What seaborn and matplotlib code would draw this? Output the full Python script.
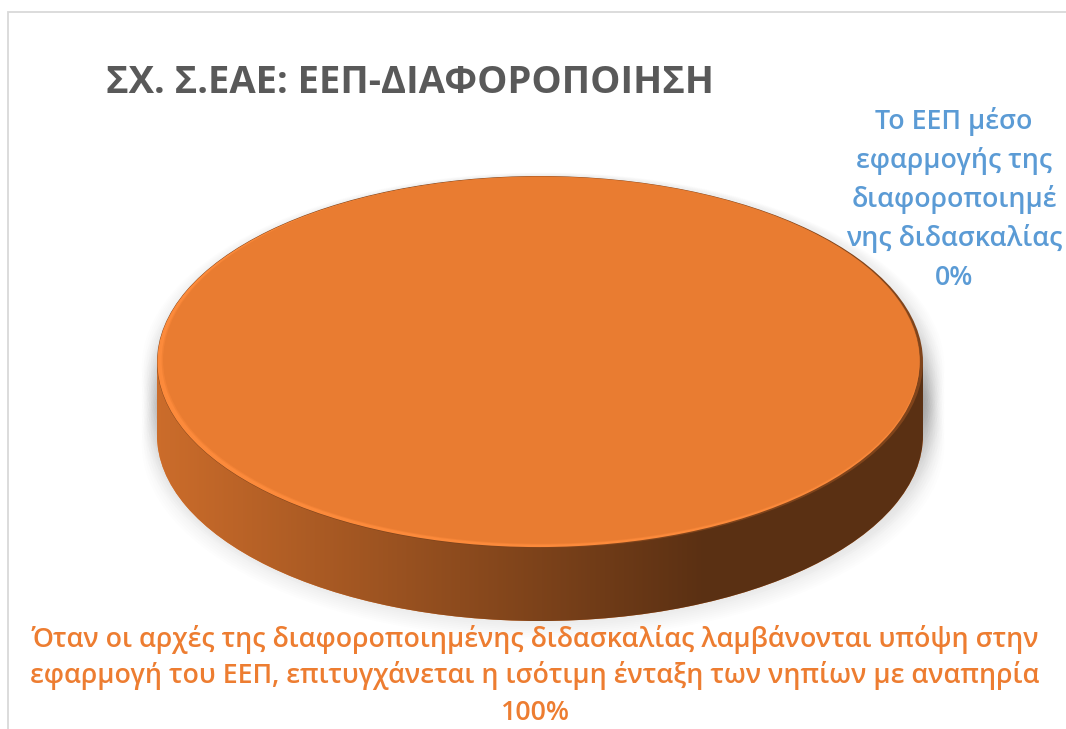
import numpy as np
import matplotlib
matplotlib.use("Agg")
import matplotlib.pyplot as plt
import seaborn as sns
from matplotlib.patches import Rectangle
from matplotlib.colors import to_rgb

# ---------------- data ----------------
title = "ΣΧ. Σ.ΕΑΕ: ΕΕΠ-ΔΙΑΦΟΡΟΠΟΙΗΣΗ"
categories = [
    "Το ΕΕΠ μέσο εφαρμογής της διαφοροποιημένης διδασκαλίας",
    "Όταν οι αρχές της διαφοροποιημένης διδασκαλίας λαμβάνονται υπόψη στην "
    "εφαρμογή του ΕΕΠ, επιτυγχάνεται η ισότιμη ένταξη των νηπίων με αναπηρία",
]
label_lines = [
    ["Το ΕΕΠ μέσο", "εφαρμογής της", "διαφοροποιημέ", "νης διδασκαλίας"],
    ["Όταν οι αρχές της διαφοροποιημένης διδασκαλίας λαμβάνονται υπόψη στην",
     "εφαρμογή του ΕΕΠ, επιτυγχάνεται η ισότιμη ένταξη των νηπίων με αναπηρία"],
]
values = [0, 100]
slice_colors = ["#5B9BD5", "#E97C31"]
label_colors = ["#5B9BD5", "#ED7D31"]

# ---------------- style ----------------
W, H = 1066, 729
sns.set_theme(style="white")
plt.rcParams["font.family"] = ["Open Sans", "DejaVu Sans"]

fig = plt.figure(figsize=(W / 100, H / 100), dpi=100)
fig.patch.set_facecolor("white")


def fx(px):
    return px / W


def fy(py):
    return 1 - py / H


# chart frame (light grey border, right/bottom run off the image)
fig.patches.append(Rectangle((fx(8), fy(H + 20)), 2, fy(12) - fy(H + 20),
                             transform=fig.transFigure, fill=False,
                             edgecolor="#D9D9D9", lw=1.3, zorder=0))

# pie geometry in pixels: centre, radii, thickness
cx, cy, rx, ry, thick = 540, 362, 383, 186, 73
T = thick / ry

ax = fig.add_axes([0, 0, 1, 1])
ax.set_facecolor("none")

# soft shadow
for yc in np.linspace(0, -T - 0.02, 6):
    for k in range(8):
        ax.pie(values, colors=["black"] * len(values), radius=1 + 0.006 * (k + 1),
               center=(0.008, yc - 0.004 * k), startangle=90, counterclock=False,
               wedgeprops=dict(linewidth=0, alpha=0.007, zorder=1))

# side of the disc (bottom face + body) with horizontal shading
bottom_wedges, _ = ax.pie(values, colors=slice_colors, radius=1, center=(0, -T),
                          startangle=90, counterclock=False,
                          wedgeprops=dict(linewidth=0, zorder=2))
x0, x1 = -cx / rx, (W - cx) / rx
xs = np.linspace(x0, x1, 800)
shade = np.clip(0.84 - 0.34 * (xs + 0.9), 0.39, 0.88)
for w, v, col in zip(bottom_wedges, values, slice_colors):
    if v <= 0:
        continue
    base = np.array(to_rgb(col))
    img = (shade[:, None] * base[None, :])[None, :, :]
    im1 = ax.imshow(img, extent=[x0, x1, -T - 1.05, 0.05], aspect="auto",
                    origin="lower", interpolation="bilinear", zorder=3)
    im1.set_clip_path(w)
    body = Rectangle((-1, -T), 2, T, transform=ax.transData)
    im2 = ax.imshow(img, extent=[x0, x1, -T - 1.05, 0.05], aspect="auto",
                    origin="lower", interpolation="bilinear", zorder=3)
    im2.set_clip_path(body)

# dark edge on the right of the top face, light rim at front-left, then the top face
dark_colors = [tuple(c * 0.55 for c in to_rgb(col)) for col in slice_colors]
ax.pie(values, colors=dark_colors, radius=1, center=(0, 0), startangle=90,
       counterclock=False, wedgeprops=dict(linewidth=0, zorder=4))
rim_colors = [tuple(min(1, c * 1.05 + 0.03) for c in to_rgb(col)) for col in slice_colors]
ax.pie(values, colors=rim_colors, radius=0.995, center=(-0.004, 0.0), startangle=90,
       counterclock=False, wedgeprops=dict(linewidth=0, zorder=4.5))
for k, a in enumerate([0.5, 1.0]):
    ax.pie(values, colors=slice_colors, radius=0.99 - 0.003 * k,
           center=(0.002 + 0.001 * k, 0.008 + 0.002 * k), startangle=90,
           counterclock=False, wedgeprops=dict(linewidth=0, alpha=a, zorder=5 + k))

ax.set_aspect("auto")
ax.set_xlim(x0, x1)
ax.set_ylim(-(H - cy) / ry, cy / ry)
ax.axis("off")

# ---------------- texts ----------------
renderer = fig.canvas.get_renderer()


def fit_size(text, target_px, weight="normal", ref=20):
    t = fig.text(0, 0, text, fontsize=ref, fontweight=weight)
    w = t.get_window_extent(renderer).width
    t.remove()
    return ref * target_px / w


title_size = fit_size(title, 609, weight="bold")
fig.text(fx(106), fy(92.7), title, fontsize=title_size, fontweight="bold",
         color="#595959", ha="left", va="baseline", zorder=10)

label_weight = "semibold"
body_size = fit_size(label_lines[1][0], 1005, weight=label_weight)
total = sum(values)
pcts = [f"{v / total * 100:.0f}%" for v in values]

# label of the 0% slice (upper right)
for i, line in enumerate(label_lines[0] + [pcts[0]]):
    fig.text(fx(954), fy(129 + 39 * i), line, fontsize=body_size, fontweight=label_weight,
             color=label_colors[0], ha="center", va="baseline", zorder=10)

# label of the 100% slice (bottom)
for i, line in enumerate(label_lines[1] + [pcts[1]]):
    fig.text(fx(535), fy(647 + 36.5 * i), line, fontsize=body_size, fontweight=label_weight,
             color=label_colors[1], ha="center", va="baseline", zorder=10)

fig.savefig("out.png", dpi=100, facecolor="white")
